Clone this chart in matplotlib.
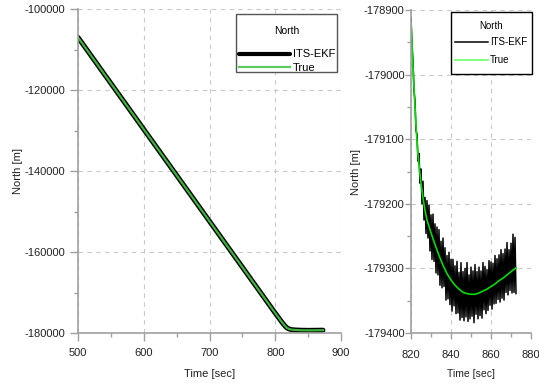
import matplotlib
matplotlib.use("Agg")
import matplotlib.pyplot as plt
import numpy as np
from matplotlib.patches import Rectangle
from matplotlib.ticker import MultipleLocator

plt.rcParams["axes.unicode_minus"] = False

# left panel: whole run, filter and truth lie on top of each other
left_time = [500, 600, 700, 800, 810, 815, 818, 820, 822, 825, 830, 840, 850, 860, 872.5]
left_north = [-107000, -129700, -152400, -175100, -177300, -178300, -178750, -178920,
              -179050, -179168, -179245, -179318, -179340, -179328, -179299]

# right panel: zoom on the final approach
true_time = [820, 820.5, 821, 821.5, 822, 822.5, 823, 823.5, 824, 825, 826, 827, 828,
             830, 832, 834, 836, 838, 840, 842, 844, 846, 848, 850, 852, 854, 856,
             858, 860, 862, 864, 866, 868, 870, 872.5]
true_north = [-178920, -178952, -178986, -179019, -179050, -179079, -179104, -179124,
              -179140, -179168, -179191, -179210, -179225, -179245, -179263, -179280,
              -179295, -179308, -179318, -179326, -179332, -179337, -179339, -179340,
              -179340, -179338, -179335, -179332, -179328, -179324, -179319, -179315,
              -179310, -179305, -179299]

ekf_step = 0.5
ekf_north = [
    -178912, -178954, -178980, -179025, -179040, -179087, -179092, -179134,
    -179122, -179168, -179146, -179200, -179165, -179225, -179190, -179246,
    -179195, -179253, -179202, -179273, -179217, -179286, -179216, -179289,
    -179231, -179307, -179236, -179310, -179240, -179326, -179258, -179330,
    -179253, -179328, -179268, -179349, -179280, -179347, -179275, -179356,
    -179286, -179366, -179286, -179358, -179296, -179370, -179289, -179369,
    -179306, -179380, -179291, -179376, -179305, -179381, -179300, -179375,
    -179291, -179382, -179310, -179378, -179298, -179374, -179304, -179384,
    -179294, -179371, -179305, -179378, -179298, -179373, -179304, -179377,
    -179291, -179364, -179297, -179370, -179302, -179365, -179288, -179357,
    -179290, -179363, -179292, -179355, -179280, -179354, -179285, -179348,
    -179279, -179352, -179271, -179346, -179277, -179349, -179270, -179337,
    -179260, -179341, -179271, -179334, -179261, -179338, -179247, -179337,
    -179252, -179339,
]
ekf_time = 820 + ekf_step * np.arange(len(ekf_north))

SPINE = "#a0a0a0"
GRID = "#c8c8c8"
TEXT = "#222222"
FONT = ["Liberation Sans", "DejaVu Sans"]


def style_axes(ax, fontsize, xpad, ypad, major_len):
    for side in ("top", "right"):
        ax.spines[side].set_visible(False)
    for side in ("left", "bottom"):
        ax.spines[side].set_color(SPINE)
        ax.spines[side].set_linewidth(1.2)
    ax.tick_params(which="major", length=major_len, width=1, color=SPINE,
                   labelsize=fontsize, labelcolor=TEXT)
    ax.tick_params(which="minor", length=3, width=1, color=SPINE)
    ax.tick_params(axis="x", which="major", pad=xpad)
    ax.tick_params(axis="y", which="major", pad=ypad)
    for lab in ax.get_xticklabels() + ax.get_yticklabels():
        lab.set_family(FONT)
    ax.grid(True, which="major", color=GRID, linestyle=(0, (4, 4)), linewidth=0.8)
    ax.set_axisbelow(True)


def legend_box(ax, x0, y0, x1, y1, edge):
    # frame drawn separately so the padding can match the original
    ax.add_patch(Rectangle((x0, y0), x1 - x0, y1 - y0, transform=ax.transAxes,
                           facecolor="white", edgecolor=edge, linewidth=1.0,
                           zorder=4, clip_on=False))


fig = plt.figure(figsize=(5.39, 3.85), dpi=100)

ax1 = fig.add_axes([0.1447, 0.135, 0.488, 0.8416])
ax1.plot(left_time, left_north, color="black", linewidth=3.6, solid_capstyle="round",
         label="ITS-EKF")
ax1.plot(left_time, left_north, color="#3cb43c", linewidth=1.6, label="True")
ax1.set_xlim(500, 900)
ax1.set_ylim(-180000, -100000)
ax1.xaxis.set_major_locator(MultipleLocator(100))
ax1.xaxis.set_minor_locator(MultipleLocator(50))
ax1.yaxis.set_major_locator(MultipleLocator(20000))
ax1.yaxis.set_minor_locator(MultipleLocator(10000))
style_axes(ax1, 8, xpad=5.5, ypad=4, major_len=5.5)
ax1.set_xlabel("Time [sec]", fontsize=8, family=FONT, color=TEXT, labelpad=8)
ax1.set_ylabel("North [m]", fontsize=8, family=FONT, color=TEXT, labelpad=1)
legend_box(ax1, 0.601, 0.8056, 0.985, 0.9846, "#555555")
leg1 = ax1.legend(title="North", loc="upper right", bbox_to_anchor=(0.977, 0.949),
                  borderaxespad=0, frameon=False, borderpad=0,
                  handlelength=4.6, handletextpad=0.2, labelspacing=0.33,
                  prop={"family": FONT, "size": 8},
                  title_fontproperties={"family": FONT, "size": 7.5})
leg1.set_zorder(5)
leg1._legend_box.sep = 10
leg1.get_lines()[0].set_linewidth(3.0)
leg1.get_lines()[1].set_color("#5ccc5c")

ax2 = fig.add_axes([0.7625, 0.135, 0.2227, 0.839])
ax2.plot(ekf_time, ekf_north, color="black", linewidth=1.1, label="ITS-EKF")
ax2.plot(true_time, true_north, color="#00dd00", linewidth=1.2, label="True")
ax2.set_xlim(820, 880)
ax2.set_ylim(-179400, -178900)
ax2.xaxis.set_major_locator(MultipleLocator(20))
ax2.xaxis.set_minor_locator(MultipleLocator(10))
ax2.yaxis.set_major_locator(MultipleLocator(100))
ax2.yaxis.set_minor_locator(MultipleLocator(50))
style_axes(ax2, 8, xpad=8, ypad=0.5, major_len=4)
ax2.set_xlabel("Time [sec]", fontsize=7.5, family=FONT, color=TEXT, labelpad=6.5)
ax2.set_ylabel("North [m]", fontsize=8, family=FONT, color=TEXT, labelpad=2)
legend_box(ax2, 0.333, 0.8019, 1.004, 0.9938, "black")
leg2 = ax2.legend(title="North", loc="upper right", bbox_to_anchor=(0.967, 0.966),
                  borderaxespad=0, frameon=False, borderpad=0,
                  handlelength=3.4, handletextpad=0.2, labelspacing=0.85,
                  prop={"family": FONT, "size": 7},
                  title_fontproperties={"family": FONT, "size": 7})
leg2.set_zorder(5)
leg2._legend_box.sep = 4.3
leg2.get_lines()[1].set_color("#66ff66")

fig.savefig("out.png", dpi=100)
